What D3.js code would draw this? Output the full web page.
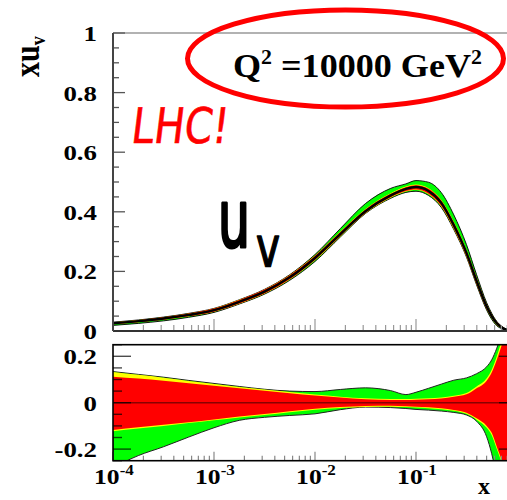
<!DOCTYPE html>
<html><head><meta charset="utf-8">
<script src="https://cdn.jsdelivr.net/npm/d3@7"></script>
<style>html,body{margin:0;padding:0;background:#fff;overflow:hidden}</style>
</head><body><svg id="c" width="507" height="500"></svg>
<script>
// ---- data ----
const xValues = [0.0001, 0.000178, 0.000316, 0.000562, 0.001, 0.00178, 0.00316, 0.00562, 0.01, 0.0178, 0.0316, 0.0562, 0.0794, 0.1, 0.133, 0.178, 0.237, 0.316, 0.398, 0.501, 0.562, 0.631, 0.708, 0.794, 0.891, 1.0];
const centralXuv = [0.026, 0.033, 0.042, 0.054, 0.070, 0.098, 0.132, 0.180, 0.245, 0.325, 0.402, 0.455, 0.477, 0.483, 0.470, 0.430, 0.355, 0.262, 0.168, 0.082, 0.050, 0.026, 0.012, 0.004, 0.001, 0.0];
// relative uncertainties (ratio panel)
const expUp  = [0.112, 0.104, 0.095, 0.084, 0.073, 0.062, 0.052, 0.041, 0.031, 0.022, 0.015, 0.012, 0.012, 0.013, 0.015, 0.018, 0.026, 0.036, 0.062, 0.095, 0.13, 0.185, 0.25, 0.32, 0.38, 0.45];
const expDn  = [-0.118, -0.106, -0.095, -0.084, -0.072, -0.060, -0.049, -0.037, -0.026, -0.019, -0.014, -0.013, -0.015, -0.017, -0.020, -0.024, -0.031, -0.043, -0.067, -0.10, -0.13, -0.19, -0.25, -0.32, -0.38, -0.45];
const modUp  = [0.132, 0.120, 0.108, 0.094, 0.081, 0.068, 0.057, 0.046, 0.035, 0.026, 0.019, 0.016, 0.016, 0.017, 0.019, 0.022, 0.030, 0.042, 0.070, 0.105, 0.142, 0.20, 0.27, 0.34, 0.40, 0.47];
const modDn  = [-0.123, -0.111, -0.100, -0.088, -0.076, -0.064, -0.053, -0.041, -0.030, -0.023, -0.018, -0.017, -0.019, -0.021, -0.024, -0.028, -0.035, -0.048, -0.073, -0.108, -0.14, -0.20, -0.26, -0.33, -0.39, -0.46];
const parUp  = [0.134, 0.122, 0.110, 0.096, 0.083, 0.070, 0.058, 0.050, 0.048, 0.057, 0.064, 0.052, 0.035, 0.045, 0.062, 0.080, 0.097, 0.107, 0.125, 0.155, 0.185, 0.235, 0.30, 0.37, 0.43, 0.50];
const parDn  = [-0.28, -0.228, -0.19, -0.148, -0.108, -0.076, -0.063, -0.055, -0.048, -0.030, -0.019, -0.021, -0.025, -0.029, -0.032, -0.036, -0.042, -0.053, -0.080, -0.147, -0.22, -0.32, -0.40, -0.45, -0.50, -0.55];
const yTopTicks = [0, 0.2, 0.4, 0.6, 0.8, 1];
const yTopLabels = ["0", "0.2", "0.4", "0.6", "0.8", "1"];
const yRatTicks = [-0.2, 0, 0.2];
const yRatLabels = ["-0.2", "0", "0.2"];
const xMajor = [1e-4, 1e-3, 1e-2, 1e-1];
const xExpLabels = ["-4", "-3", "-2", "-1"];

// ---- scales ----
const svg = d3.select("#c");
const x = d3.scaleLog().domain([1e-4, 1]).range([113, 517]);
const yT = d3.scaleLinear().domain([0, 1]).range([331, 33]);
const yR = d3.scaleLinear().domain([-0.25, 0.25]).range([460.7, 344.7]);
const SERIF = "'Liberation Serif','Times New Roman',serif";

const defs = svg.append("defs");
defs.append("clipPath").attr("id", "clipT").append("rect").attr("x", 113).attr("y", 33).attr("width", 404).attr("height", 298);
defs.append("clipPath").attr("id", "clipR").append("rect").attr("x", 113).attr("y", 344.7).attr("width", 404).attr("height", 116);

const pts = xValues.map((v, i) => ({x: v, c: centralXuv[i], eU: expUp[i], eD: expDn[i], mU: modUp[i], mD: modDn[i], pU: parUp[i], pD: parDn[i]}));
const cv = d3.curveMonotoneX;

// ---- top panel ----
const gT = svg.append("g").attr("clip-path", "url(#clipT)");
function topArea(lo, hi) { return d3.area().curve(cv).x(d => x(d.x)).y0(d => yT(d.c * (1 + d[lo]))).y1(d => yT(d.c * (1 + d[hi]))); }
gT.append("path").datum(pts).attr("d", topArea("pD", "pU")).attr("fill", "#00ff00").attr("stroke", "#000").attr("stroke-width", 0.9);
gT.append("path").datum(pts).attr("d", topArea("mD", "mU")).attr("fill", "#ffff00");
gT.append("path").datum(pts).attr("d", topArea("eD", "eU")).attr("fill", "#ff0000");
gT.append("path").datum(pts).attr("d", d3.line().curve(cv).x(d => x(d.x)).y(d => yT(d.c))).attr("fill", "none").attr("stroke", "#000").attr("stroke-width", 2.4);

// top axes
svg.append("line").attr("x1", 113).attr("x2", 517).attr("y1", 33).attr("y2", 33).attr("stroke", "#999").attr("stroke-width", 1.5);
const xt = x.ticks();
const isMajor = v => Math.abs(Math.log10(v) - Math.round(Math.log10(v))) < 1e-6;
svg.append("g").selectAll("line").data(xt).join("line")
  .attr("x1", d => x(d)).attr("x2", d => x(d)).attr("y1", 331).attr("y2", d => 331 - (isMajor(d) ? 12 : 6))
  .attr("stroke", "#999").attr("stroke-width", 1.2);
svg.append("g").selectAll("line").data(yT.ticks(20)).join("line")
  .attr("x1", 113).attr("x2", d => 113 + (Math.abs(d * 5 - Math.round(d * 5)) < 1e-6 ? 12 : 6))
  .attr("y1", d => yT(d)).attr("y2", d => yT(d)).attr("stroke", "#555").attr("stroke-width", 1.3);
svg.append("line").attr("x1", 113).attr("x2", 517).attr("y1", 331).attr("y2", 331).attr("stroke", "#333").attr("stroke-width", 2);
svg.append("line").attr("x1", 113).attr("x2", 113).attr("y1", 33).attr("y2", 331).attr("stroke", "#444").attr("stroke-width", 2);

// ---- ratio panel ----
const gR = svg.append("g").attr("clip-path", "url(#clipR)");
function ratArea(lo, hi) { return d3.area().curve(cv).x(d => x(d.x)).y0(d => yR(d[lo])).y1(d => yR(d[hi])); }
gR.append("path").datum(pts).attr("d", ratArea("pD", "pU")).attr("fill", "#00ff00").attr("stroke", "#222").attr("stroke-width", 1);
gR.append("path").datum(pts).attr("d", ratArea("mD", "mU")).attr("fill", "#ffff00");
gR.append("path").datum(pts).attr("d", ratArea("eD", "eU")).attr("fill", "#ff0000");
gR.append("line").attr("x1", 113).attr("x2", 517).attr("y1", yR(0)).attr("y2", yR(0)).attr("stroke", "#8a0000").attr("stroke-width", 1.4);
const rt = yR.ticks(10);
const rMaj = d => Math.abs(d * 5 - Math.round(d * 5)) < 1e-6;
svg.append("g").selectAll("line").data(rt).join("line")
  .attr("x1", 113).attr("x2", d => 113 + (rMaj(d) ? 18 : 9))
  .attr("y1", d => yR(d)).attr("y2", d => yR(d)).attr("stroke", "#000").attr("stroke-opacity", 0.7).attr("stroke-width", 1.4);
svg.append("g").selectAll("line").data(rt).join("line")
  .attr("x1", 517).attr("x2", d => 517 - (rMaj(d) ? 18 : 9))
  .attr("y1", d => yR(d)).attr("y2", d => yR(d)).attr("stroke", "#000").attr("stroke-opacity", 0.7).attr("stroke-width", 1.4);
svg.append("g").selectAll("line").data(xt).join("line")
  .attr("x1", d => x(d)).attr("x2", d => x(d)).attr("y1", 460.7).attr("y2", d => 460.7 - (isMajor(d) ? 9 : 5))
  .attr("stroke", "#888").attr("stroke-width", 1.2);
svg.append("rect").attr("x", 113).attr("y", 344.7).attr("width", 404).attr("height", 116)
  .attr("fill", "none").attr("stroke", "#000").attr("stroke-width", 1.6);

// ---- text helpers ----
function stretch(sel, ax, target) {
  const w = sel.node().getBBox().width;
  const s = target / w;
  sel.attr("transform", `translate(${ax},0) scale(${s},1) translate(${-ax},0)`);
}
const SX = 1.22;
function label(txt, xr, yb, size) {
  const t = svg.append("text").attr("x", xr).attr("y", yb).attr("text-anchor", "end")
    .attr("font-family", SERIF).attr("font-weight", "bold").attr("font-size", size).attr("fill", "#000").text(txt);
  t.attr("transform", `translate(${xr},0) scale(${SX},1) translate(${-xr},0)`);
  return t;
}
yTopTicks.forEach((v, i) => label(yTopLabels[i], 97, yT(v) + 8, 22));
yRatTicks.forEach((v, i) => label(yRatLabels[i], 97, yR(v) + 8, 22));

xMajor.forEach((v, i) => {
  const cx = x(v) + 1;
  const t = svg.append("text").attr("x", cx).attr("y", 484).attr("text-anchor", "middle")
    .attr("font-family", SERIF).attr("font-weight", "bold").attr("font-size", 21).attr("fill", "#000");
  t.append("tspan").text("10");
  t.append("tspan").attr("font-size", 14).attr("dy", -9).text(xExpLabels[i]);
  t.attr("transform", `translate(${cx},0) scale(${SX},1) translate(${-cx},0)`);
});
// x title
svg.append("text").attr("x", 490).attr("y", 494).attr("text-anchor", "end")
  .attr("font-family", SERIF).attr("font-weight", "bold").attr("font-size", 24).text("x");
// y title
const yt = svg.append("text").attr("transform", `translate(39,77) scale(${SX},1) rotate(-90)`)
  .attr("font-family", SERIF).attr("font-weight", "bold").attr("font-size", 30);
yt.append("tspan").text("xu");
yt.append("tspan").attr("font-size", 18).attr("dy", 5).text("v");

// ---- annotations ----
const qt = svg.append("text").attr("x", 233).attr("y", 77).attr("font-family", SERIF).attr("font-weight", "bold").attr("font-size", 33);
qt.append("tspan").text("Q");
qt.append("tspan").attr("font-size", 20).attr("dy", -13).text("2");
qt.append("tspan").attr("dy", 13).text(" =10000 GeV");
qt.append("tspan").attr("font-size", 20).attr("dy", -13).text("2");
stretch(qt, 233, 249);

svg.append("ellipse").attr("cx", 345.5).attr("cy", 58.5).attr("rx", 158).attr("ry", 48.5)
  .attr("fill", "none").attr("stroke", "#ff0000").attr("stroke-width", 5);

const lhc = svg.append("text").attr("x", 130).attr("y", 143).attr("font-family", "'DejaVu Sans',sans-serif")
  .attr("font-size", 49).attr("fill", "#ff0000").attr("stroke", "#ff0000").attr("stroke-width", 0.6).text("LHC!");
const lw = lhc.node().getBBox().width;
lhc.attr("transform", `translate(130,143) skewX(-7) scale(${97 / lw},1) translate(-130,-143)`);

function hand(txt, xl, yb, size, target, sw) {
  const t = svg.append("text").attr("x", xl).attr("y", yb).attr("font-family", "'DejaVu Sans',sans-serif")
    .attr("font-size", size).attr("fill", "#000").attr("stroke", "#000").attr("stroke-width", sw)
    .attr("stroke-linejoin", "round").text(txt);
  stretch(t, xl, target);
}
hand("u", 218, 247, 80, 32, 3.2);
hand("v", 256, 266, 56, 24, 1.6);
</script>
</body></html>
